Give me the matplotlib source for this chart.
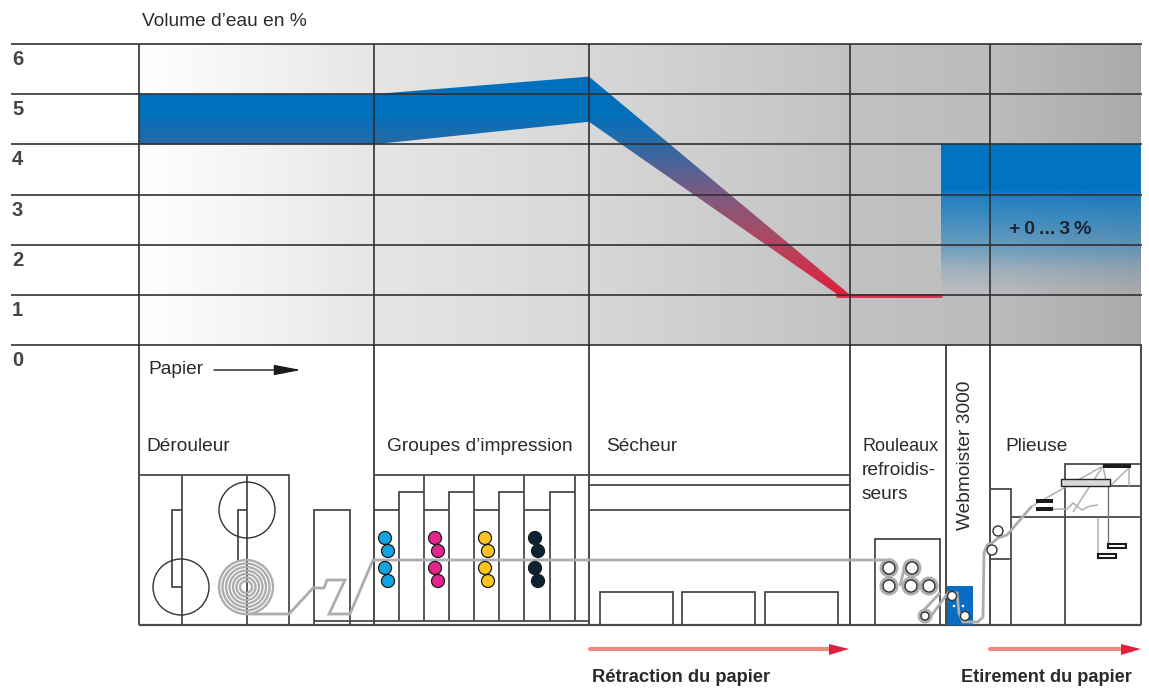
import numpy as np
import matplotlib
matplotlib.use("Agg")
import matplotlib.pyplot as plt
from matplotlib.colors import LinearSegmentedColormap
from matplotlib.patches import Polygon, Circle, Rectangle

plt.rcParams['font.family'] = ['Liberation Sans', 'DejaVu Sans']

W, H = 1149, 691

# water volume, x is the position along the press (same units as the drawing below)
pct_ticks = [0, 1, 2, 3, 4, 5, 6]
band_top_x = [139, 374, 589, 850]
band_top = [5.0, 5.0, 5.35, 1.0]
band_bot_x = [139, 374, 589, 838]
band_bot = [4.0, 4.0, 4.45, 1.0]
red_x = [838, 941]
red_y = [0.98, 0.98]
rise_x = [941, 1141]
rise_y = [1.0, 4.0]
section_x = [139, 374, 589, 850, 990]

# background grey along x
bg_x = [139, 190, 374, 589, 850, 990, 1141]
bg_grey = [255, 250, 230, 216, 194, 188, 170]

# machine drawing
sections = [(146, 446, "Dérouleur", 13.8), (387, 446, "Groupes d’impression", 13.8), (606, 446, "Sécheur", 13.8),
            (862, 446, "Rouleaux", 13), (862, 470, "refroidis-", 13.8), (862, 494, "seurs", 13.8),
            (1005, 446, "Plieuse", 13.8)]
frame_v = [139, 374, 589, 850, 946, 990, 1141]
sech_lines = [475, 485, 510]
sech_boxes = [(600, 673), (682, 755), (765, 838)]
unit_x = [374, 424, 474, 525]
ink_colors = ['#13a3e0', '#e5258b', '#fdc41e', '#0b2233']
ink_dx = [0, 50, 100, 150]
ink_pts = [(385, 538), (388, 551), (385, 568), (388, 581)]
spiral_r = [6, 9.5, 13, 16.5, 20, 23.5, 27]

paper_a = [(247, 614), (289, 614), (313, 588), (324, 588), (327, 580), (345, 580), (329, 614), (350, 614),
           (373, 560), (892, 560)]
paper_b = [(900, 586), (905, 565)]
paper_c = [(940, 593), (921, 613)]
paper_d = [(928, 620), (948, 593), (957, 593), (959, 613), (963, 622), (978, 622), (983, 617), (984, 553),
           (987, 545), (992, 543), (998, 538), (1007, 535), (1032, 506)]
roller_big = [(889, 568), (912, 568), (889, 586), (911, 586), (929, 586)]
roller_small = [(925, 616)]
roller_blue = [(952, 596), (965, 616)]
roller_fold = [(992, 550), (998, 531)]

folder_lines = [[(990, 489), (1011, 489), (1011, 625)], [(990, 559), (1011, 559)], [(1011, 517), (1141, 517)],
                [(1065, 625), (1065, 464), (1141, 464)], [(1065, 486), (1141, 486)]]
thin_grey = [[(1032, 506), (1103, 466)], [(1103, 466), (1131, 466), (1110, 486)], [(1103, 466), (1073, 512)],
             [(1129, 466), (1129, 486)], [(1103, 466), (1107, 486)],
             [(1053, 509), (1067, 509), (1073, 503), (1082, 510), (1090, 506), (1098, 505)],
             [(1098, 518), (1098, 555)]]
black_bars = [(1103, 1131, 464, 468), (1036, 1053, 499, 503), (1036, 1053, 507, 511)]
trays = [(1108, 1126, 544, 548), (1098, 1116, 554, 558)]

LINE = '#4a4a4c'
PAPER = '#adadb0'

fig = plt.figure(figsize=(W / 100, H / 100), dpi=100)

# whole figure axes in pixels for the drawing
ax = fig.add_axes([0, 0, 1, 1])
ax.set_xlim(0, W)
ax.set_ylim(H, 0)
ax.axis('off')

# water volume axes on top
ax_w = fig.add_axes([12 / W, 1 - 345 / H, (1141 - 12) / W, 301 / H])
ax_w.set_xlim(12, 1141)
ax_w.set_ylim(0, 6)
ax_w.patch.set_alpha(0)
ax_w.axis('off')

ext = [139, 1141, 0, 6]
xs = np.arange(139, 1142)
g = np.interp(xs, bg_x, bg_grey) / 255
bg = np.dstack([g, g, g + 0.004]).clip(0, 1)
ax_w.imshow(bg, extent=ext, aspect='auto', zorder=1)

# band with colour depending on the height
band_cm = LinearSegmentedColormap.from_list('band', [(0, '#e01f3c'), (1 / 6, '#e01f3c'), (2 / 6, '#b2465f'),
                                                    (0.5, '#7f5a82'), (4 / 6, '#2a6aa6'), (0.77, '#0070bc'),
                                                    (1, '#0070bc')])
grad = np.linspace(1, 0, 300)[:, np.newaxis]
im = ax_w.imshow(grad, extent=[139, 850, 0, 6], cmap=band_cm, vmin=0, vmax=1, aspect='auto', zorder=2)
poly = Polygon(list(zip(band_top_x, band_top)) + list(zip(band_bot_x, band_bot))[::-1], closed=True,
               transform=ax_w.transData, facecolor='none', edgecolor='none')
ax_w.add_patch(poly)
im.set_clip_path(poly)
ax_w.plot(red_x, red_y, color='#d92f4c', lw=2.8, solid_capstyle='round', zorder=3)

# the re-moistening block, blue fading out downwards
a = np.interp(np.linspace(rise_y[1], rise_y[0], 300), [1, 1.1, 1.5, 2, 3, 3.1, 4], [0, 0.02, 0.15, 0.45, 0.85, 1, 1])
rise = np.zeros((300, 1, 4))
rise[:, 0, :3] = matplotlib.colors.to_rgb('#0074c1')
rise[:, 0, 3] = a
ax_w.imshow(rise, extent=[rise_x[0], rise_x[1], rise_y[0], rise_y[1]], aspect='auto', zorder=3)
ax_w.set_xlim(12, 1141)
ax_w.set_ylim(0, 6)

for v in pct_ticks:
    ax_w.plot([12, 1141], [v, v], color='#303033', alpha=0.85, lw=1.4, zorder=5, clip_on=False)
    ax_w.text(12, v - 0.31, str(v), fontsize=14.5, fontweight='bold', color='#444446',
              ha='left', va='center', zorder=6, clip_on=False)
for x in section_x:
    ax_w.plot([x, x], [0, 6], color='#303033', alpha=0.85, lw=1.4, zorder=5)
ax_w.plot([1141, 1141], [0, 6], color='#77777a', lw=1, zorder=5)

ax_w.text(1009, 2.3, "+\u20090\u2009...\u20093\u2009%", fontsize=14, fontweight='bold', color='#1c2433',
          ha='left', va='center', zorder=6)
ax.text(142, 21, "Volume d’eau en %", fontsize=13.8, color='#2a2a2c', va='center')


def seg(pts, color=LINE, lw=1.3, z=2):
    p = np.array(pts)
    ax.plot(p[:, 0], p[:, 1], color=color, lw=lw, zorder=z, solid_joinstyle='miter', solid_capstyle='butt')


# frame of the lower part
for x in frame_v:
    seg([(x, 345), (x, 625)], lw=1.4)
seg([(139, 625), (1141, 625)], lw=1.6)

# unwinder
seg([(139, 475), (289, 475), (289, 625)])
seg([(182, 475), (182, 625)])
seg([(247, 475), (247, 625)])
seg([(182, 510), (172, 510), (172, 587), (182, 587)])
seg([(247, 510), (238, 510), (238, 562)])
ax.add_patch(Circle((247, 510), 28, fill=False, ec='#333335', lw=1, zorder=3))
ax.add_patch(Circle((181, 587), 28, fill=False, ec='#333335', lw=1, zorder=3))
for r in spiral_r:
    ax.add_patch(Circle((246, 587), r, fill=False, ec=PAPER, lw=1.7, zorder=3))
seg([(314, 625), (314, 510), (350, 510), (350, 625)])
seg([(314, 621), (374, 621)])

# printing units
seg([(374, 475), (589, 475)])
seg([(374, 621), (589, 621)])
for x in unit_x:
    seg([(x, 510), (x + 25, 510)])
    seg([(x + 25, 621), (x + 25, 492), (x + 50, 492)])
    seg([(x + 50, 475), (x + 50, 621)])
for c, dx in zip(ink_colors, ink_dx):
    for px, pyy in ink_pts:
        ax.add_patch(Circle((px + dx, pyy), 6.5, fc=c, ec='#1a1a1c', lw=0.9, zorder=5))

# dryer
for y in sech_lines:
    seg([(589, y), (850, y)])
for x0, x1 in sech_boxes:
    seg([(x0, 625), (x0, 592), (x1, 592), (x1, 625)])

# chill rolls and webmoister
seg([(875, 625), (875, 539), (940, 539), (940, 625)])
ax.add_patch(Rectangle((947, 586), 26, 39, fc='#0a6cc0', ec='none', zorder=2))

# folder
for pts in folder_lines:
    seg(pts)
for pts in thin_grey:
    seg(pts, color='#b0b0b2', lw=1.1, z=3)
seg([(1108, 486), (1108, 545)], color='#77777a', lw=1, z=3)
ax.add_patch(Rectangle((1061, 479), 49, 7, fc='#d8d8d8', ec='#222224', lw=1, zorder=4))
for x0, x1, y0, y1 in black_bars:
    ax.add_patch(Rectangle((x0, y0), x1 - x0, y1 - y0, fc='#1a1a1c', ec='none', zorder=5))
for x0, x1, y0, y1 in trays:
    ax.add_patch(Rectangle((x0, y0), x1 - x0, y1 - y0, fc='white', ec='#1a1a1c', lw=1.5, zorder=5))

# paper web
for pts in [paper_a, paper_b, paper_c, paper_d]:
    seg(pts, color=PAPER, lw=2, z=4)
for c, r in [(p, 6) for p in roller_big] + [(p, 4) for p in roller_small]:
    ax.add_patch(Circle(c, r, fc='white', ec=PAPER, lw=5, zorder=4))
    ax.add_patch(Circle(c, r, fc='white', ec='#333335', lw=1, zorder=5))
for c in roller_blue:
    ax.add_patch(Circle(c, 4.5, fc='white', ec='#333335', lw=1, zorder=5))
for c in roller_fold:
    ax.add_patch(Circle(c, 5, fc='white', ec='#333335', lw=1, zorder=5))
ax.add_patch(Circle((954, 606), 1.3, fc='white', ec='none', zorder=5))
ax.add_patch(Circle((963, 606), 1.3, fc='white', ec='none', zorder=5))

# text of the lower part
ax.text(148, 369, "Papier", fontsize=13.8, color='#2a2a2c', va='center')
ax.annotate("", xy=(301, 370), xytext=(214, 370),
            arrowprops=dict(arrowstyle='-|>,head_length=1.65,head_width=0.32', color='#1a1a1c', lw=1, shrinkA=0, shrinkB=0))
for x, y, s, fs in sections:
    ax.text(x, y, s, fontsize=fs, color='#2a2a2c', va='center', zorder=6)
ax.text(966, 455, "Webmoister 3000", fontsize=13.8, color='#2a2a2c', rotation=90, ha='center', va='center', zorder=6)

# red arrows
for x0, x1 in [(590, 849), (990, 1141)]:
    ax.plot([x0, x1 - 15], [649, 649], color='#ee8b80', lw=3, solid_capstyle='round', zorder=3)
    ax.add_patch(Polygon([(x1 - 20, 644), (x1, 649), (x1 - 20, 655)], closed=True, fc='#e0203a', ec='none', zorder=4))
ax.text(592, 678, "Rétraction du papier", fontsize=13.2, fontweight='bold', color='#2a2a2c', va='center')
ax.text(961, 678, "Etirement du papier", fontsize=13.1, fontweight='bold', color='#2a2a2c', va='center')

fig.savefig('out.png', dpi=100)
